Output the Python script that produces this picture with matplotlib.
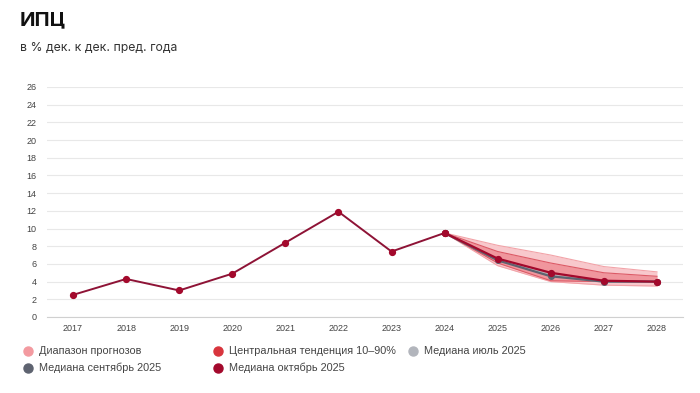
import matplotlib
matplotlib.use("Agg")
import matplotlib.pyplot as plt
from matplotlib.lines import Line2D

# history and forecast values (% Dec/Dec)
years = [2017, 2018, 2019, 2020, 2021, 2022, 2023, 2024]
cpi = [2.5, 4.3, 3.0, 4.9, 8.4, 11.9, 7.4, 9.5]

fc_years = [2024, 2025, 2026, 2027, 2028]
range_low = [9.5, 5.8, 4.0, 3.6, 3.5]
range_high = [9.5, 8.1, 7.0, 5.7, 5.1]
central_low = [9.5, 6.1, 4.1, 4.0, 4.0]
central_high = [9.5, 7.4, 6.1, 5.0, 4.6]
median_jul = [9.5, 6.5, 4.7, 4.0, 4.0]
median_sep = [9.5, 6.4, 4.6, 4.0, 4.0]
median_oct = [9.5, 6.6, 5.0, 4.1, 4.0]

yticks = list(range(0, 27, 2))
xticks = list(range(2017, 2029))

legend_labels = ["Диапазон прогнозов", "Центральная тенденция 10–90%", "Медиана июль 2025",
                 "Медиана сентябрь 2025", "Медиана октябрь 2025"]
legend_colors = ["#f39aa0", "#d8353d", "#b2b5bc", "#5e6370", "#a3092c"]

W, H = 700, 393
fig = plt.figure(figsize=(7, 3.93), dpi=100)
ax = fig.add_axes([47 / W, 1 - 317 / H, 636 / W, 230 / H])

ax.fill_between(fc_years, range_low, range_high, color="#f8c8cc", lw=0, zorder=1)
ax.plot(fc_years, range_high, color="#f2a3a8", lw=0.8, zorder=1)
ax.plot(fc_years, range_low, color="#f2a3a8", lw=0.8, zorder=1)
ax.fill_between(fc_years, central_low, central_high, color="#ee8a92", alpha=0.8, lw=0, zorder=2)
ax.plot(fc_years, central_high, color="#dc5a66", lw=0.8, zorder=2)
ax.plot(fc_years, central_low, color="#dc5a66", lw=0.8, zorder=2)

ax.plot(fc_years, median_jul, color="#b2b5bc", lw=1.6, marker="o", ms=4, zorder=3)
ax.plot(fc_years, median_sep, color="#5e6370", lw=1.6, marker="o", ms=4, zorder=4)
ax.plot(fc_years, median_oct, color="#a3092c", lw=1.6, marker="o", ms=4.2, zorder=5)
ax.plot(years, cpi, color="#8e1336", lw=1.4, marker="o", ms=4.2, mfc="#a3092c", mec="#a3092c", zorder=6)

ax.set_xlim(2016.51, 2028.49)
ax.set_ylim(0, 26)
ax.set_yticks(yticks)
ax.set_xticks(xticks)
ax.grid(axis="y", color="#e8e8e8", lw=0.8)
ax.set_axisbelow(True)
for s in ["top", "right", "left"]:
    ax.spines[s].set_visible(False)
ax.spines["bottom"].set_color("#d0d0d0")
ax.tick_params(length=0, labelsize=6.5, labelcolor="#444444")
ax.tick_params(axis="x", pad=5)
ax.tick_params(axis="y", pad=7.5)
for lab in ax.get_xticklabels() + ax.get_yticklabels():
    lab.set_family("Liberation Sans")

fig.text(20 / W, 1 - 20 / H, "ИПЦ", fontsize=14.5, fontweight="bold", family="Inter",
         va="center", ha="left", color="#111111")
fig.text(20 / W, 1 - 48 / H, "в % дек. к дек. пред. года", fontsize=8.8, family="Inter",
         va="center", ha="left", color="#333333")

# legend placed by hand (uneven column spacing in the original)
positions = [(28, 351), (218, 351), (413, 351), (28, 368), (218, 368)]
for (px, py), lab, col in zip(positions, legend_labels, legend_colors):
    fig.add_artist(Line2D([px / W], [1 - py / H], marker="o", ms=6.5, color=col, lw=0,
                          transform=fig.transFigure))
    fig.text((px + 11) / W, 1 - py / H, lab, fontsize=7.8, family="Liberation Sans",
             va="center", ha="left", color="#444444")

fig.savefig("out.png", dpi=100)
